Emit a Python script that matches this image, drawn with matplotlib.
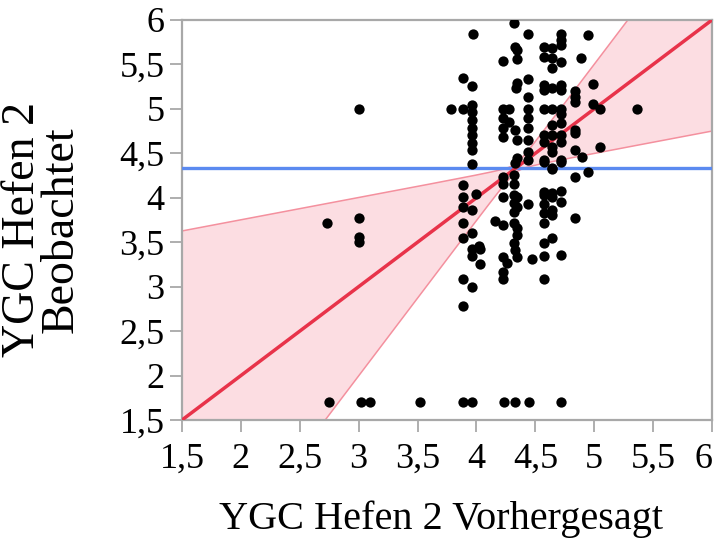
import numpy as np
import matplotlib
matplotlib.use('Agg')
import matplotlib.pyplot as plt
import matplotlib.transforms as mtransforms

plt.rcParams['font.family'] = ['Liberation Serif', 'DejaVu Serif']

pred = [2.73, 3.00, 3.00, 3.00, 3.00,
        2.75, 3.02, 3.10, 3.52, 3.89, 3.96, 4.23, 4.33, 4.45, 4.72,
        3.78,
        3.885, 3.885, 3.885, 3.885, 3.885, 3.885, 3.885, 3.885, 3.885,
        3.97, 3.96, 3.96, 3.96, 3.96, 3.96, 3.96, 3.96, 3.96, 3.96, 3.96, 3.96, 3.96, 3.96, 3.96,
        4.00, 4.02, 4.03, 4.03,
        4.16,
        4.225, 4.225, 4.225, 4.225, 4.225, 4.225, 4.225, 4.225, 4.225, 4.225, 4.225, 4.225, 4.26,
        4.28, 4.28,
        4.32, 4.33, 4.345, 4.345, 4.345, 4.34, 4.33, 4.345, 4.345, 4.33, 4.32, 4.32, 4.32, 4.345,
        4.32, 4.345, 4.32, 4.32, 4.345, 4.345, 4.32, 4.33, 4.345,
        4.44, 4.44, 4.44, 4.44, 4.44, 4.44, 4.44, 4.44, 4.44, 4.44, 4.47,
        4.57, 4.57, 4.57, 4.57, 4.57, 4.57, 4.57, 4.57, 4.57, 4.57, 4.57, 4.57, 4.57, 4.57, 4.57,
        4.57, 4.57,
        4.64, 4.64, 4.64, 4.64, 4.64, 4.64, 4.64, 4.64, 4.64, 4.64, 4.64, 4.64, 4.64, 4.64, 4.64,
        4.64,
        4.72, 4.72, 4.72, 4.72, 4.72, 4.72, 4.72, 4.72, 4.72, 4.72, 4.72, 4.72, 4.72, 4.72, 4.72,
        4.72,
        4.84, 4.84, 4.84, 4.84, 4.84, 4.84, 4.84, 4.84,
        4.89, 4.895, 4.95, 4.95, 4.99, 4.99, 5.045, 5.045, 5.36]
obs = [3.72, 5.00, 3.77, 3.56, 3.50,
       1.70, 1.70, 1.70, 1.70, 1.70, 1.70, 1.70, 1.70, 1.70, 1.70,
       5.00,
       5.35, 5.00, 4.14, 4.01, 3.90, 3.72, 3.55, 3.09, 2.78,
       5.84, 5.26, 5.04, 4.965, 4.88, 4.79, 4.71, 4.62, 4.54, 4.38, 3.86, 3.60, 3.42, 3.35, 3.00,
       4.04, 3.46, 3.42, 3.26,
       3.74,
       5.54, 5.00, 4.90, 4.79, 4.68, 4.23, 4.15, 4.01, 3.69, 3.33, 3.17, 3.09, 3.27,
       5.00, 4.85,
       5.97, 5.70, 5.66, 5.56, 5.29, 5.24, 4.76, 4.65, 4.45, 4.39, 4.26, 4.15, 4.03, 4.01,
       3.94, 3.90, 3.84, 3.72, 3.66, 3.58, 3.49, 3.41, 3.33,
       5.84, 5.34, 5.13, 5.00, 4.90, 4.79, 4.65, 4.52, 4.43, 3.93, 3.31,
       5.70, 5.58, 5.27, 5.21, 5.00, 4.71, 4.63, 4.43, 4.40, 4.07, 4.03, 3.93, 3.83, 3.72, 3.49,
       3.35, 3.09,
       5.69, 5.57, 5.46, 5.24, 5.00, 4.82, 4.71, 4.57, 4.52, 4.34, 4.05, 4.01, 3.86, 3.81, 3.55,
       4.32,
       5.84, 5.78, 5.72, 5.53, 5.27, 5.21, 5.00, 4.94, 4.84, 4.71, 4.63, 4.43, 4.40, 4.08, 3.95,
       3.36,
       5.20, 5.13, 5.08, 4.76, 4.73, 4.54, 4.23, 3.77,
       5.57, 4.46, 5.83, 4.29, 5.28, 5.06, 5.00, 4.57, 5.00]

mean_obs = 4.335
band_a = 0.05
band_c = 0.75

ticks = [1.5, 2, 2.5, 3, 3.5, 4, 4.5, 5, 5.5, 6]
tick_labels = ['1,5', '2', '2,5', '3', '3,5', '4', '4,5', '5', '5,5', '6']

fig = plt.figure(figsize=(7.18, 5.39), dpi=100)
ax = fig.add_axes([0.2535, 0.2208, 0.7381, 0.7421])

xs = np.linspace(1.5, 6, 400)
half = np.sqrt(band_a ** 2 + band_c ** 2 * (xs - mean_obs) ** 2)
ax.fill_between(xs, xs - half, xs + half, color='#fcdde2', lw=0, zorder=1)
ax.plot(xs, xs - half, color='#f4909e', lw=1.1, zorder=2)
ax.plot(xs, xs + half, color='#f4909e', lw=1.1, zorder=2)
ax.axhline(mean_obs, color='#5b8af0', lw=2.4, zorder=3)
ax.plot([1.5, 6], [1.5, 6], color='#e8334a', lw=2.5, zorder=4)
ax.scatter(pred, obs, s=55, color='black', zorder=5, linewidths=0)

ax.set_xlim(1.5, 6)
ax.set_ylim(1.5, 6)
ax.set_xticks(ticks)
ax.set_xticklabels(tick_labels)
ax.set_yticks(ticks)
ax.set_yticklabels(tick_labels)
ax.tick_params(direction='out', length=8.5, width=1.3, color='#a8a8a8',
               labelsize=26)
ax.tick_params(axis='x', pad=8)
ax.tick_params(axis='y', pad=4)
for s in ax.spines.values():
    s.set_color('#a8a8a8')
    s.set_linewidth(1.6)

# last x label sits against the right edge, nudge it in a bit
last = ax.get_xticklabels()[-1]
last.set_transform(last.get_transform() +
                   mtransforms.ScaledTranslation(-6 / 72, 0, fig.dpi_scale_trans))

ax.set_xlabel('YGC Hefen 2 Vorhergesagt', fontsize=29)
ax.xaxis.set_label_coords(0.488, -0.2475)
ax.xaxis.label.set_verticalalignment('center')

ax.set_ylabel('YGC Hefen 2\nBeobachtet', fontsize=33, linespacing=0.88)
ax.yaxis.set_label_coords(-0.264, 0.475)
ax.yaxis.label.set_verticalalignment('center')

fig.savefig('out.png', dpi=100)
